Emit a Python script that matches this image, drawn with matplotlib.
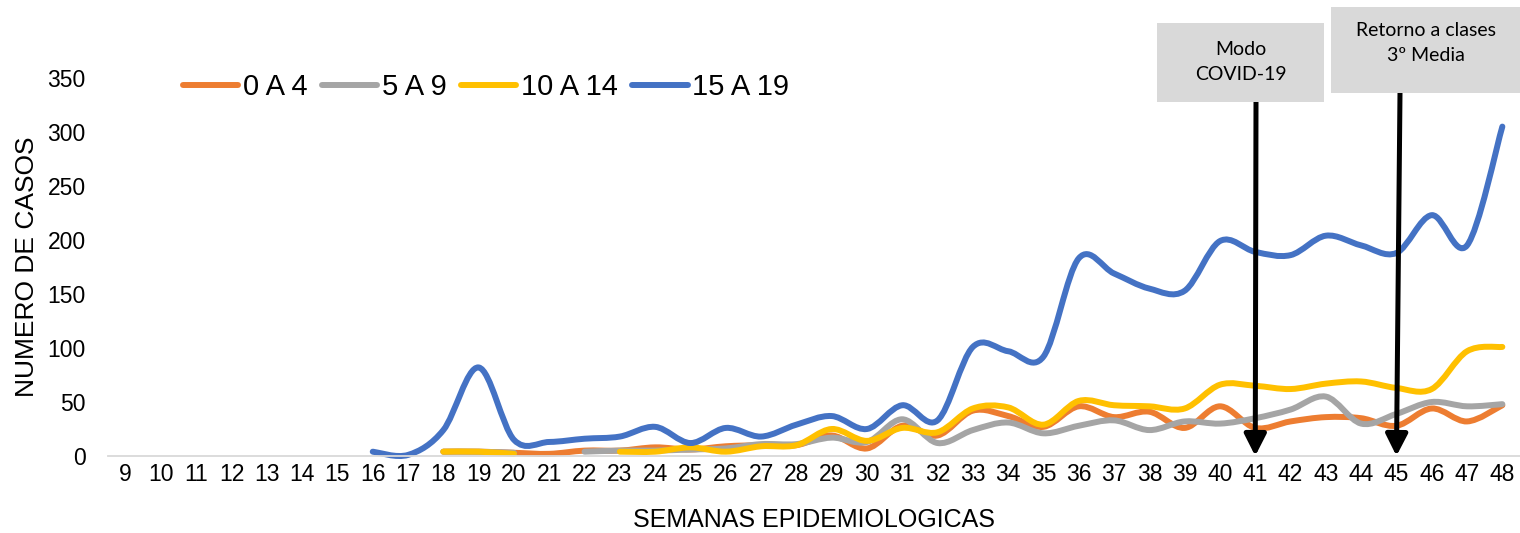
import numpy as np
import matplotlib.pyplot as plt
from matplotlib.path import Path
from matplotlib.patches import PathPatch, Rectangle
from matplotlib.lines import Line2D

plt.rcParams['font.family'] = ['Liberation Sans', 'DejaVu Sans']

# semanas epidemiologicas 9..48
weeks = [9, 10, 11, 12, 13, 14, 15, 16, 17, 18, 19, 20, 21, 22, 23, 24, 25, 26, 27, 28,
         29, 30, 31, 32, 33, 34, 35, 36, 37, 38, 39, 40, 41, 42, 43, 44, 45, 46, 47, 48]
n = None

# casos por grupo de edad (None = sin dato)
age_0_4 = [n] * 9 + [4, 4, 3, 2, 5, 5, 8, 6, 9, 10, 10, 19, 7, 28, 19, 42, 37, 27, 46,
                     36, 41, 26, 46, 26, 32, 36, 35, 28, 44, 32, 47]
age_5_9 = [n] * 9 + [4, 4, 3, n, 4, 5, 5, 6, 7, 11, 11, 17, 13, 34, 12, 24, 31, 21, 28,
                     33, 24, 32, 30, 35, 43, 55, 30, 39, 50, 46, 48]
age_10_14 = [n] * 9 + [4, 4, 2, n, n, 4, 4, 8, 4, 9, 10, 25, 14, 26, 22, 44, 45, 29, 51,
                       47, 46, 44, 66, 65, 62, 67, 69, 63, 62, 97, 101]
age_15_19 = [n] * 7 + [4, 1, 24, 82, 15, 13, 16, 18, 27, 12, 26, 18, 29, 37, 25, 47, 33,
                       101, 97, 92, 183, 169, 155, 153, 199, 189, 186, 204, 195, 188, 223,
                       195, 305]

labels = ['0 A 4', '5 A 9', '10 A 14', '15 A 19']
colors = ['#ed7d31', '#a5a5a5', '#ffc000', '#4472c4']
series = [age_0_4, age_5_9, age_10_14, age_15_19]

yticks = [0, 50, 100, 150, 200, 250, 300, 350]

# eventos marcados con flecha
event_weeks = [41, 45]
event_texts = ['Modo\nCOVID-19', 'Retorno a clases\n3º Media']


def smooth_path(x, y):
    # curva suavizada tipo excel (bezier catmull-rom), se corta en los None
    verts, codes = [], []
    run = []
    for xi, yi in list(zip(x, y)) + [(None, None)]:
        if yi is None:
            if len(run) > 1:
                pts = np.array(run, dtype=float)
                verts.append(pts[0])
                codes.append(Path.MOVETO)
                for i in range(len(pts) - 1):
                    p0 = pts[i - 1] if i > 0 else pts[i]
                    p1 = pts[i]
                    p2 = pts[i + 1]
                    p3 = pts[i + 2] if i + 2 < len(pts) else pts[i + 1]
                    verts += [p1 + (p2 - p0) / 6, p2 - (p3 - p1) / 6, p2]
                    codes += [Path.CURVE4] * 3
            run = []
        else:
            run.append((xi, yi))
    return Path(verts, codes)


W, H = 1520, 533
fig = plt.figure(figsize=(W / 100, H / 100), dpi=100)
ax = fig.add_axes([108 / W, (H - 456) / H, 1 - 108 / W, 378 / H])

handles = []
for vals, c, lab in zip(series, colors, labels):
    p = PathPatch(smooth_path(weeks, vals), fill=False, edgecolor=c, lw=4.3,
                  capstyle='round', joinstyle='round', clip_on=False)
    ax.add_patch(p)
    handles.append(Line2D([], [], color=c, lw=4.3, solid_capstyle='round'))

ax.set_xlim(8.5, 48.5)
ax.set_ylim(0, 350)
ax.set_xticks(weeks)
ax.set_xticklabels([str(w) for w in weeks], fontsize=16.5)
ax.set_yticks(yticks)
ax.set_yticklabels([str(v) for v in yticks], fontsize=16.5)
ax.tick_params(axis='both', length=0)
ax.tick_params(axis='y', pad=16)
ax.tick_params(axis='x', pad=5)
for s in ['top', 'right', 'left']:
    ax.spines[s].set_visible(False)
ax.spines['bottom'].set_color('#d9d9d9')
ax.spines['bottom'].set_linewidth(1.3)

ax.set_xlabel('SEMANAS EPIDEMIOLOGICAS', fontsize=18, labelpad=16)
ax.set_ylabel('NUMERO DE CASOS', fontsize=19, labelpad=6)

ax.legend(handles, labels, loc='center', bbox_to_anchor=(486 / W, (H - 87) / H),
          bbox_transform=fig.transFigure, ncol=4, frameon=False, fontsize=21,
          handlelength=1.9, handletextpad=0.15, columnspacing=0.5)

# cajas de texto
boxes = [(1157, 23, 167, 79), (1331, 7, 189, 86)]
box_fs = [14, 14]
box_cy = [62, 43]
for (bx, by, bw, bh), cy, txt, fs in zip(boxes, box_cy, event_texts, box_fs):
    fig.patches.append(Rectangle((bx / W, (H - by - bh) / H), bw / W, bh / H,
                                 transform=fig.transFigure, facecolor='#d9d9d9',
                                 edgecolor='none', zorder=1))
    fig.text((bx + bw / 2) / W, (H - cy) / H, txt, ha='center', va='center',
             fontsize=fs, family=['Lato', 'DejaVu Sans'], linespacing=1.6, zorder=2)

arrow_tops = [(1256, 102), (1400, 93)]
for wk, (tx, ty) in zip(event_weeks, arrow_tops):
    ax.annotate('', xy=(wk, 0), xycoords='data', xytext=(tx / W, (H - ty) / H),
                textcoords='figure fraction', annotation_clip=False, zorder=5,
                arrowprops=dict(arrowstyle='-|>,head_length=0.65,head_width=0.33',
                                lw=3.6, color='black', shrinkA=0, shrinkB=0,
                                mutation_scale=20))

fig.savefig('out.png', dpi=100)
